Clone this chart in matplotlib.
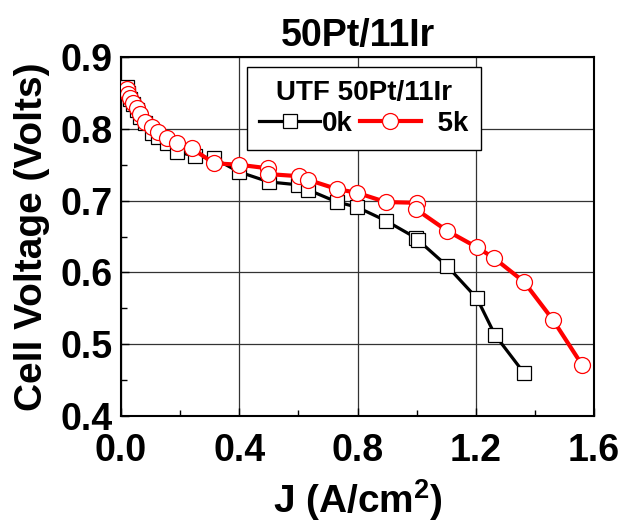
import matplotlib

matplotlib.use("Agg")
import matplotlib.pyplot as plt
from matplotlib.ticker import MultipleLocator

plt.rcParams["font.family"] = ["Liberation Sans", "DejaVu Sans"]
plt.rcParams["font.weight"] = "bold"
plt.rcParams["mathtext.fontset"] = "custom"
plt.rcParams["mathtext.rm"] = "Liberation Sans:bold"
plt.rcParams["mathtext.bf"] = "Liberation Sans:bold"
plt.rcParams["mathtext.default"] = "rm"

# 0k (black squares)
j_0k = [0.019, 0.023, 0.030, 0.042, 0.053, 0.064, 0.081, 0.104, 0.126, 0.154,
        0.188, 0.250, 0.314, 0.399, 0.501, 0.599, 0.633, 0.731, 0.798, 0.896,
        0.998, 1.005, 1.103, 1.204, 1.265, 1.363]
v_0k = [0.858, 0.850, 0.842, 0.834, 0.826, 0.817, 0.808, 0.794, 0.788, 0.780,
        0.768, 0.762, 0.759, 0.740, 0.726, 0.722, 0.715, 0.698, 0.691, 0.672,
        0.648, 0.645, 0.609, 0.564, 0.513, 0.460]

# 5k (red circles)
j_5k = [0.019, 0.023, 0.030, 0.042, 0.053, 0.064, 0.081, 0.104, 0.126, 0.154,
        0.188, 0.239, 0.314, 0.399, 0.497, 0.497, 0.602, 0.633, 0.731, 0.798,
        0.896, 1.001, 0.998, 1.103, 1.204, 1.262, 1.363, 1.461, 1.560]
v_5k = [0.856, 0.849, 0.843, 0.836, 0.829, 0.820, 0.810, 0.802, 0.796, 0.787,
        0.780, 0.773, 0.752, 0.750, 0.745, 0.737, 0.734, 0.729, 0.716, 0.711,
        0.698, 0.697, 0.688, 0.658, 0.635, 0.620, 0.587, 0.534, 0.471]

fig, ax = plt.subplots(figsize=(6.19, 5.27), dpi=100)
fig.subplots_adjust(left=0.1955, right=0.9596, top=0.8918, bottom=0.2106)

ax.plot(j_0k, v_0k, color="black", lw=2.3, marker="s", ms=10,
        mfc="white", mec="black", mew=0.9, label="0k", zorder=3)
ax.plot(j_5k, v_5k, color="red", lw=3.0, marker="o", ms=11.5,
        mfc="white", mec="red", mew=0.9, label="  5k", zorder=4)

ax.set_xlim(0, 1.6)
ax.set_ylim(0.4, 0.9)
ax.xaxis.set_major_locator(MultipleLocator(0.4))
ax.xaxis.set_minor_locator(MultipleLocator(0.2))
ax.yaxis.set_major_locator(MultipleLocator(0.1))
ax.yaxis.set_minor_locator(MultipleLocator(0.05))
ax.xaxis.set_major_formatter(lambda v, p: f"{v:.1f}")
ax.yaxis.set_major_formatter(lambda v, p: f"{v:.1f}")

ax.grid(True, which="major", color="#333333", lw=0.9, zorder=1)
ax.set_axisbelow(True)
ax.tick_params(which="both", direction="in")
ax.tick_params(which="major", length=6, width=1, labelsize=27)
ax.tick_params(which="minor", length=4, width=1)
ax.tick_params(axis="x", which="major", pad=12)
ax.tick_params(axis="y", which="major", pad=6)
for sp in ax.spines.values():
    sp.set_linewidth(1.5)

ax.set_title("50Pt/11Ir", fontsize=27, fontweight="bold", pad=8)
ax.set_xlabel("J (A/cm$^{2}$)", fontsize=28, fontweight="bold")
ax.set_ylabel("Cell Voltage (Volts)", fontsize=28, fontweight="bold")
ax.xaxis.set_label_coords(0.5, -0.17)
ax.yaxis.set_label_coords(-0.15, 0.5)

leg = ax.legend(loc="upper left", bbox_to_anchor=(0.266, 0.972), ncol=2,
                borderaxespad=0, title="UTF 50Pt/11Ir", fontsize=20,
                title_fontsize=20, handlelength=2.2, handletextpad=0.05,
                columnspacing=0.25, borderpad=0.45, fancybox=False,
                framealpha=1, edgecolor="black", labelspacing=0.2)
leg.get_title().set_fontweight("bold")
leg.get_frame().set_linewidth(1.0)

fig.savefig("out.png", dpi=100)
